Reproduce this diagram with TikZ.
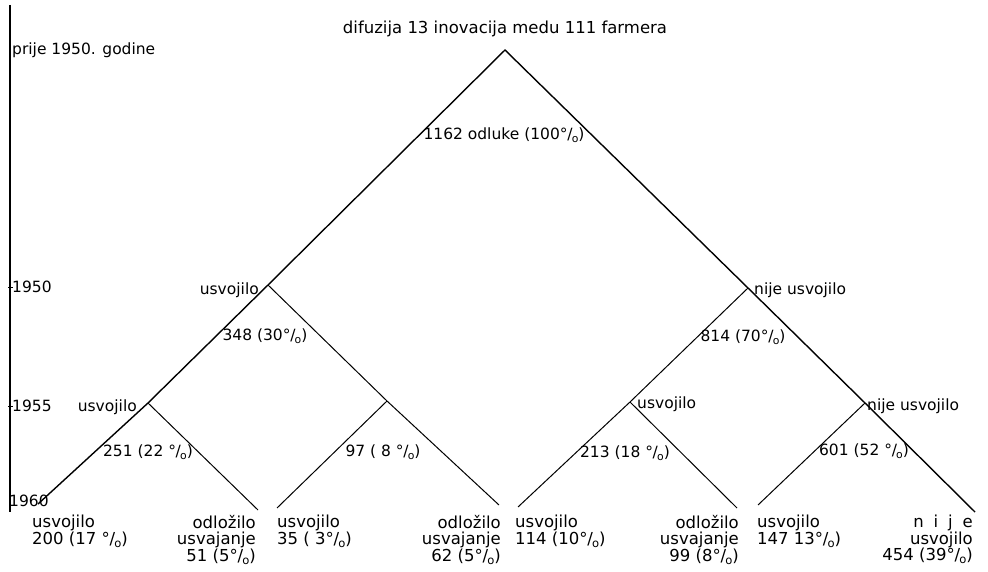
\documentclass[tikz,border=0pt]{standalone}
\usepackage{fontspec}
\setmainfont{DejaVu Sans}
\newcommand\pct{°\kern-0.02em/\kern-0.05em\raisebox{-0.35ex}{\scalebox{0.7}{o}}}
\begin{document}
\begin{tikzpicture}[x=1pt,y=-1pt,
  lbl/.style={inner sep=0pt,font=\fontsize{15.5}{17}\selectfont},
  leaf/.style={inner sep=0pt,font=\fontsize{16.5}{16.5}\selectfont,anchor=north west,align=left},
  leafr/.style={inner sep=0pt,font=\fontsize{16.5}{16.5}\selectfont,anchor=north east,align=right},
  branch/.style={line width=1.4pt},
  thin/.style={line width=1pt}]
\useasboundingbox (0,0) rectangle (988,572);
% axis
\coordinate (ax0) at (10,5);
\coordinate (ax1) at (10,512);
\draw[line width=1.8pt] (ax0) -- (ax1);
\coordinate (t50a) at (8,287); \coordinate (t50b) at (13,287);
\coordinate (t55a) at (8,406); \coordinate (t55b) at (13,406);
\draw[thin] (t50a) -- (t50b);
\draw[thin] (t55a) -- (t55b);
\node[lbl,anchor=west] (prije) at (12,50) {prije 1950. godine};
\node[lbl,anchor=west] (y50) at (12,287) {1950};
\node[lbl,anchor=west] (y55) at (12,406) {1955};
\node[lbl,anchor=west] (y60) at (9,501) {1960};
% tree points
\coordinate (A) at (505,50);
\coordinate (L1) at (268,285);
\coordinate (R1) at (748,288);
\coordinate (LL) at (148,403);
\coordinate (LR) at (387,401);
\coordinate (RL) at (630,402);
\coordinate (RR) at (865,403);
\coordinate (l1) at (38,504);
\coordinate (l2) at (258,510);
\coordinate (l3) at (277,508);
\coordinate (l4) at (499,505);
\coordinate (l5) at (518,507);
\coordinate (l6) at (737,508);
\coordinate (l7) at (758,505);
\coordinate (l8) at (975,512);
\draw[branch] (l1) -- (LL) -- (L1) -- (A) -- (R1) -- (RR) -- (l8);
\draw[thin] (L1) -- (LR) -- (l4);
\draw[thin] (LL) -- (l2);
\draw[thin] (LR) -- (l3);
\draw[thin] (R1) -- (RL) -- (l5);
\draw[thin] (RL) -- (l6);
\draw[thin] (RR) -- (l7);
% labels
\node[lbl,font=\fontsize{16.5}{18}\selectfont] (title) at (505,29) {difuzija 13 inovacija medu 111 farmera};
\node[lbl] (n0) at (504,135) {1162 odluke (100\pct)};
\node[lbl,anchor=east] (nL1) at (259,290) {usvojilo};
\node[lbl,anchor=west] (nR1) at (754,290) {nije usvojilo};
\node[lbl] (p348) at (265,336) {348 (30\pct)};
\node[lbl] (p814) at (743,337) {814 (70\pct)};
\node[lbl,anchor=east] (nLL) at (137,407) {usvojilo};
\node[lbl,anchor=west] (nRL) at (637,404) {usvojilo};
\node[lbl,anchor=west] (nRR) at (867,406) {nije usvojilo};
\node[lbl] (p251) at (148,452) {251 (22 \pct)};
\node[lbl] (p97) at (383,452) {97 ( 8 \pct)};
\node[lbl] (p213) at (625,453) {213 (18 \pct)};
\node[lbl] (p601) at (864,451) {601 (52 \pct)};
% leaves
\node[leaf] (b1) at (32,515) {usvojilo\\200 (17 \pct)};
\node[leafr] (b2) at (256,515) {odložilo\\usvajanje\\51 (5\pct)};
\node[leaf] (b3) at (277,515) {usvojilo\\35 ( 3\pct)};
\node[leafr] (b4) at (501,515) {odložilo\\usvajanje\\62 (5\pct)};
\node[leaf] (b5) at (515,515) {usvojilo\\114 (10\pct)};
\node[leafr] (b6) at (739,515) {odložilo\\usvajanje\\99 (8\pct)};
\node[leaf] (b7) at (757,515) {usvojilo\\147 13\pct)};
\node[leafr] (b8) at (973,515) {n\hspace{0.6em}i\hspace{0.6em}j\hspace{0.6em}e\\usvojilo\\454 (39\pct)};
\end{tikzpicture}
\end{document}
